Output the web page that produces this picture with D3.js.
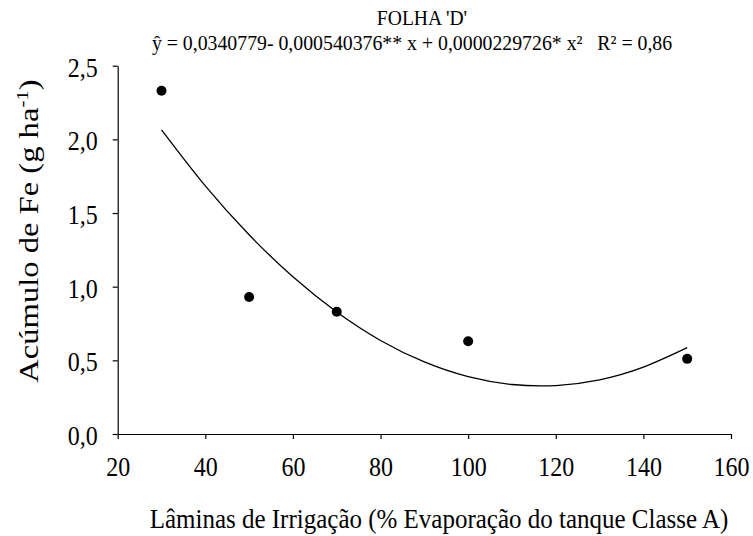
<!DOCTYPE html>
<html>
<head>
<meta charset="utf-8">
<script src="https://cdn.jsdelivr.net/npm/d3@7"></script>
<style>
  html, body { margin: 0; padding: 0; background: #fff; }
  svg { display: block; }
  svg text { font-family: 'Liberation Serif', 'Tinos', 'Times New Roman', Times, 'DejaVu Serif', serif; fill: #000; }
</style>
</head>
<body>
<svg id="chart" width="753" height="536"></svg>
<script>
// Observed data
const lamina = [30, 50, 70, 100, 150];
const fe = [2.33, 0.93, 0.83, 0.63, 0.51];

// Fitted curve
const curveX = [30, 40, 50, 60, 70, 80, 90, 100, 110, 120, 130, 140, 150];
const curveY = [2.065, 1.684, 1.352, 1.067, 0.828, 0.635, 0.489, 0.389, 0.336, 0.329, 0.368, 0.454, 0.586];

const xTicks = [20, 40, 60, 80, 100, 120, 140, 160];
const yTicks = [0, 0.5, 1.0, 1.5, 2.0, 2.5];

const titleText = "FOLHA 'D'";
const equationText = "ŷ = 0,0340779- 0,000540376** x + 0,0000229726* x²   R² = 0,86";
const xTitle = "Lâminas de Irrigação (% Evaporação do tanque Classe A)";

const FONT = "'Liberation Serif', 'Tinos', 'Times New Roman', Times, 'DejaVu Serif', serif";

const svg = d3.select("#chart");
const fmt = d => d3.format(".1f")(d).replace(".", ",");

const x = d3.scaleLinear().domain([20, 160]).range([117.7, 731]);
const y = d3.scaleLinear().domain([0, 2.5]).range([434, 65.7]);

// vertical stretch of text glyphs (the reference image is slightly stretched vertically)
function stretch(sel, s) {
  sel.each(function () {
    const t = d3.select(this);
    const tx = +t.attr("x") || 0, ty = +t.attr("y") || 0;
    t.attr("x", 0).attr("y", 0).attr("transform", `translate(${tx},${ty}) scale(1,${s})`);
  });
}

// Axes
const xAxis = svg.append("g").attr("transform", `translate(0,${y(0)})`)
  .call(d3.axisBottom(x).tickValues(xTicks).tickSize(5).tickSizeOuter(0));
const yAxis = svg.append("g").attr("transform", `translate(${x(20)},0)`)
  .call(d3.axisLeft(y).tickValues(yTicks).tickFormat(fmt).tickSize(5).tickSizeOuter(0));

[xAxis, yAxis].forEach(g => {
  g.attr("font-family", FONT).attr("font-size", 24);
  g.selectAll("path, line").attr("stroke", "#000").attr("stroke-width", 1.2);
  g.selectAll("text").attr("fill", "#000");
});
xAxis.selectAll("text").attr("y", 42).attr("dy", 0).attr("x", 0);
yAxis.selectAll("text").attr("x", -20).attr("y", 10.5).attr("dy", 0);
stretch(xAxis.selectAll("text"), 1.15);
stretch(yAxis.selectAll("text"), 1.12);

// Curve
const line = d3.line().x(d => x(d[0])).y(d => y(d[1])).curve(d3.curveNatural);
svg.append("path")
  .datum(curveX.map((v, i) => [v, curveY[i]]))
  .attr("d", line)
  .attr("fill", "none")
  .attr("stroke", "#000")
  .attr("stroke-width", 1.3);

// Points
svg.append("g").selectAll("circle")
  .data(lamina.map((v, i) => [v, fe[i]]))
  .join("circle")
  .attr("cx", d => x(d[0]))
  .attr("cy", d => y(d[1]))
  .attr("r", 5)
  .attr("fill", "#000");

// Title and equation
const t1 = svg.append("text").attr("x", 422).attr("y", 25).attr("text-anchor", "middle")
  .attr("font-family", FONT).attr("font-size", 19.6).text(titleText);
const t2 = svg.append("text").attr("x", 412).attr("y", 50).attr("text-anchor", "middle")
  .attr("font-family", FONT).attr("font-size", 19.8)
  .attr("xml:space", "preserve").style("white-space", "pre").text(equationText);
stretch(t1, 1.08);
stretch(t2, 1.08);

// Y axis title (stretched along its length)
const yt = svg.append("text")
  .attr("transform", "translate(38,231) rotate(-90) scale(1.23,1)")
  .attr("text-anchor", "middle")
  .attr("font-family", FONT).attr("font-size", 26.5);
yt.append("tspan").text("Acúmulo de Fe (g ha");
yt.append("tspan").attr("dy", "-10").attr("font-size", 17).text("-1");
yt.append("tspan").attr("dy", "10").text(")");

// X axis title
const xt = svg.append("text").attr("x", 439).attr("y", 528).attr("text-anchor", "middle")
  .attr("font-family", FONT).attr("font-size", 25)
  .text(xTitle);
stretch(xt, 1.12);
</script>
</body>
</html>
